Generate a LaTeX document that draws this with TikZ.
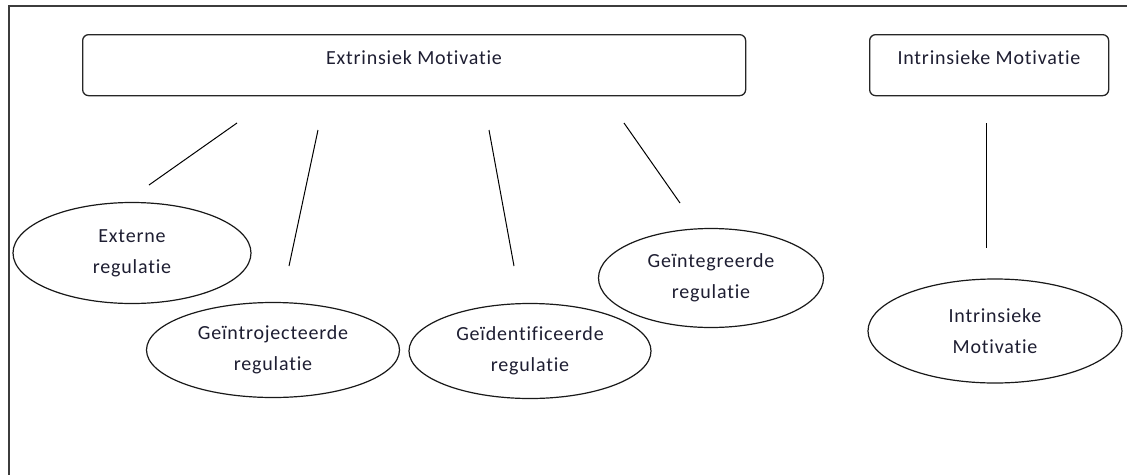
\documentclass[tikz,border=0pt]{standalone}
\usepackage{fontspec}
\setmainfont{Carlito}[LetterSpace=4, Ligatures={NoCommon}]
\usetikzlibrary{shapes.geometric}
\definecolor{ink}{RGB}{30,30,50}
\definecolor{framec}{RGB}{60,60,60}
\tikzset{
  x=1pt, y=1pt,
  frameline/.style={draw=framec, line width=2pt},
  bigbox/.style={draw=black!85, line width=1.3pt, rounded corners=6pt, rectangle, anchor=north west, inner sep=0pt},
  oval/.style={draw=black!90, line width=1.2pt, ellipse, inner sep=0pt, align=center, font=\fontsize{20}{31}\selectfont, text=ink},
  tlabel/.style={font=\fontsize{20}{31}\selectfont, text=ink},
  link/.style={draw=black, line width=1pt}
}
\begin{document}
\begin{tikzpicture}
\useasboundingbox (0,0) rectangle (1127,-474);
\fill[white] (0,0) rectangle (1127,-474);
% frame
\draw[frameline] (9,-476) -- (9,-6) -- (1130,-6);
% boxes
\node[bigbox, minimum width=663, minimum height=61] (ext) at (82,-34) {};
\node[tlabel] (extt) at (414,-58) {Extrinsiek Motivatie};
\node[bigbox, minimum width=239, minimum height=61] (intr) at (869,-34) {};
\node[tlabel] (intrt) at (989,-58) {Intrinsieke Motivatie};
% ellipses
\node[oval, minimum width=238, minimum height=101] (e1) at (132,-253) {Externe\\regulatie};
\node[oval, minimum width=253, minimum height=95] (e2) at (273,-350) {Geïntrojecteerde\\regulatie};
\node[oval, minimum width=242, minimum height=95] (e3) at (530,-351) {Geïdentificeerde\\regulatie};
\node[oval, minimum width=225, minimum height=99] (e4) at (711,-278) {Geïntegreerde\\regulatie};
\node[oval, minimum width=254, minimum height=104] (e5) at (995,-331) {Intrinsieke\\Motivatie};
% connector ends
\coordinate (a1) at (237,-123); \coordinate (b1) at (149,-185);
\coordinate (a2) at (318,-130); \coordinate (b2) at (289,-266);
\coordinate (a3) at (489,-130); \coordinate (b3) at (514,-266);
\coordinate (a4) at (624,-123); \coordinate (b4) at (680,-203);
\coordinate (a5) at (986,-123); \coordinate (b5) at (986,-248);
\draw[link] (a1) -- (b1);
\draw[link] (a2) -- (b2);
\draw[link] (a3) -- (b3);
\draw[link] (a4) -- (b4);
\draw[link] (a5) -- (b5);
\end{tikzpicture}
\end{document}
